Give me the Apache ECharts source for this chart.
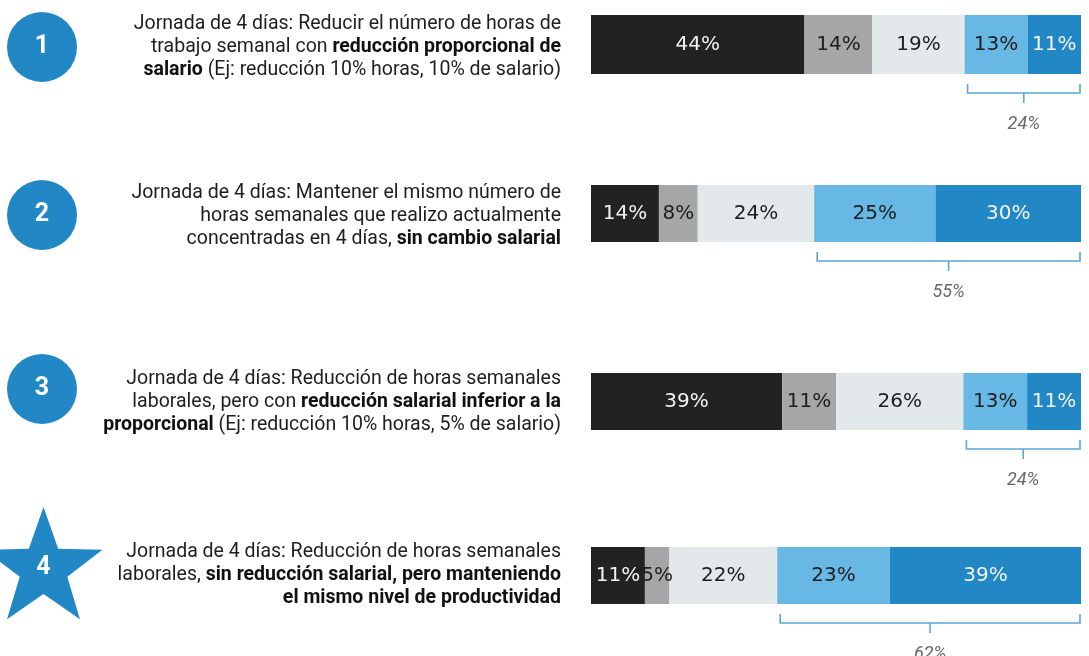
<!DOCTYPE html>
<html>
<head>
<meta charset="utf-8">
<script src="https://cdn.jsdelivr.net/npm/echarts@6/dist/echarts.min.js"></script>
<style>
  html, body { margin: 0; padding: 0; background: #fff; }
  #chart { width: 1089px; height: 656px; }
</style>
</head>
<body>
<div id="chart"></div>
<script>
// opciones de jornada (filas) y reparto de respuestas en % (segmentos de izq. a der.)
const opciones = ['1', '2', '3', '4'];
const muyDesfavorable = [44, 14, 39, 11];
const desfavorable = [14, 8, 11, 5];
const neutral = [19, 24, 26, 22];
const favorable = [13, 25, 13, 23];
const muyFavorable = [11, 30, 11, 39];

const segmentos = [
  {name: 'Muy desfavorable', data: muyDesfavorable, color: '#222222', label: '#f2f2f2'},
  {name: 'Desfavorable', data: desfavorable, color: '#a6a6a6', label: '#1e1e1e'},
  {name: 'Neutral', data: neutral, color: '#e3e8eb', label: '#1e1e1e'},
  {name: 'Favorable', data: favorable, color: '#67b8e4', label: '#1e1e1e'},
  {name: 'Muy favorable', data: muyFavorable, color: '#2188c5', label: '#f2f2f2'}
];

const textos = [
  ['Jornada de 4 días: Reducir el número de horas de',
   'trabajo semanal con {b|reducción proporcional de}',
   '{b|salario} (Ej: reducción 10% horas, 10% de salario)'],
  ['Jornada de 4 días: Mantener el mismo número de',
   'horas semanales que realizo actualmente',
   'concentradas en 4 días, {b|sin cambio salarial}'],
  ['Jornada de 4 días: Reducción de horas semanales',
   'laborales, pero con {b|reducción salarial inferior a la}',
   '{b|proporcional} (Ej: reducción 10% horas, 5% de salario)'],
  ['Jornada de 4 días: Reducción de horas semanales',
   'laborales, {b|sin reducción salarial, pero manteniendo}',
   '{b|el mismo nivel de productividad}']
];

// layout
const barTops = [15, 185, 373, 547];
const barHeights = [59, 57, 57, 57];
const textMid = [47, 216, 402, 575];
const iconMid = [47, 215, 389, 569];
const blue = '#2188c5';
const font = 'Roboto, "Noto Sans", sans-serif';

let chart = echarts.init(document.getElementById('chart'));

let grids = [], xAxes = [], yAxes = [], series = [];
opciones.forEach(function (op, i) {
  let total = 0;
  segmentos.forEach(function (s) { total += s.data[i]; });
  grids.push({left: 591, right: 8, top: barTops[i], height: barHeights[i]});
  xAxes.push({type: 'value', gridIndex: i, min: 0, max: total, show: false});
  yAxes.push({type: 'category', gridIndex: i, data: [op], show: false});

  segmentos.forEach(function (s) {
    series.push({
      name: s.name,
      type: 'bar',
      xAxisIndex: i,
      yAxisIndex: i,
      stack: 'fila' + i,
      barCategoryGap: '0%',
      silent: true,
      itemStyle: {color: s.color},
      label: {
        show: true,
        position: 'inside',
        formatter: '{c}%',
        color: s.label,
        fontFamily: '"DejaVu Sans", sans-serif',
        fontSize: 20
      },
      data: [s.data[i]]
    });
  });

  // llave bajo los dos segmentos favorables
  let inicio = total - favorable[i] - muyFavorable[i];
  series.push({
    type: 'custom',
    xAxisIndex: i,
    yAxisIndex: i,
    clip: false,
    silent: true,
    encode: {x: [0, 1], y: 2},
    data: [[inicio, total, 0, favorable[i] + muyFavorable[i]]],
    renderItem: function (params, api) {
      let x0 = api.coord([api.value(0), 0])[0] + 3;
      let x1 = api.coord([api.value(1), 0])[0] - 1;
      let yb = api.coord([0, 0])[1] + api.size([0, 1])[1] / 2;
      let xm = (x0 + x1) / 2;
      let st = {stroke: '#5aa7d8', lineWidth: 1.6, fill: null};
      return {
        type: 'group',
        children: [
          {type: 'polyline', shape: {points: [[x0, yb + 10], [x0, yb + 19], [x1, yb + 19], [x1, yb + 10]]}, style: st},
          {type: 'line', shape: {x1: xm, y1: yb + 19, x2: xm, y2: yb + 29}, style: st},
          {type: 'text', style: {
            x: xm, y: yb + 50, text: api.value(3) + '%',
            fill: '#686868', font: 'italic 18px ' + font,
            align: 'center', verticalAlign: 'middle'
          }}
        ]
      };
    }
  });
});

// iconos y textos de la izquierda
let graphic = [];
opciones.forEach(function (op, i) {
  if (i < 3) {
    graphic.push({type: 'circle', shape: {cx: 42, cy: iconMid[i], r: 35}, style: {fill: blue}});
  } else {
    let pts = [], R = 62, r = 25;
    for (let k = 0; k < 10; k++) {
      let a = -Math.PI / 2 + k * Math.PI / 5;
      let rr = k % 2 ? r : R;
      pts.push([43.5 + rr * Math.cos(a), iconMid[i] + rr * Math.sin(a)]);
    }
    graphic.push({type: 'polygon', shape: {points: pts}, style: {fill: blue}});
  }
  graphic.push({
    type: 'text', x: i < 3 ? 42 : 43.5, y: i < 3 ? iconMid[i] : iconMid[i] - 1,
    style: {text: op, fill: '#fff', font: 'bold 25px ' + font, align: 'center', verticalAlign: 'middle'}
  });
  textos[i].forEach(function (t, j) {
    graphic.push({
      type: 'text', x: 561, y: textMid[i] + (j - 1) * 23,
      style: {
        text: t, fill: '#1e1e1e', font: '19.5px ' + font,
        align: 'right', verticalAlign: 'middle',
        rich: {b: {fontWeight: 'bold', fontSize: 19.5, fontFamily: font, fill: '#111'}}
      }
    });
  });
});

chart.setOption({
  animation: false,
  grid: grids,
  xAxis: xAxes,
  yAxis: yAxes,
  series: series,
  graphic: graphic
});
</script>
</body>
</html>
